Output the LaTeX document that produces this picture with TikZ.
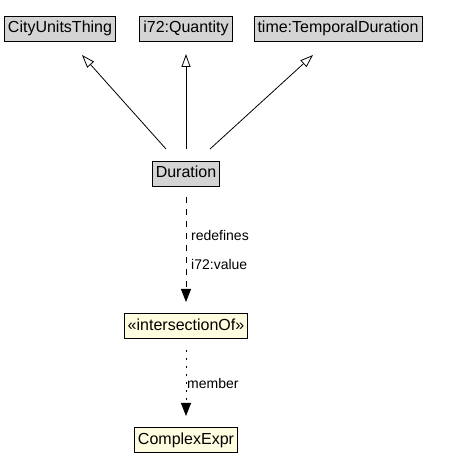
\documentclass[tikz,border=0pt]{standalone}
\usepackage{fontspec}
\setmainfont{Liberation Sans}
\usetikzlibrary{arrows.meta}
\begin{document}
\begin{tikzpicture}[x=1pt,y=-1pt,
  cls/.style={draw=black, line width=0.8pt, fill=black!17, font=\fontsize{16}{18}\selectfont,
    inner xsep=3.5pt, inner ysep=0pt, minimum height=25pt, text height=11.5pt, text depth=3pt},
  ycls/.style={cls, fill=yellow!12},
  gen/.style={line width=0.8pt, -{Triangle[open, fill=white, length=13pt, width=9pt]}},
  dep/.style={line width=0.8pt, dash pattern=on 6pt off 6pt, -{Triangle[length=13pt, width=10pt]}},
  mem/.style={line width=0.8pt, dash pattern=on 2pt off 6pt, -{Triangle[length=13pt, width=10pt]}},
  lbl/.style={font=\fontsize{14}{16}\selectfont, anchor=west, inner sep=0pt}]
\useasboundingbox (0,0) rectangle (472,470);
\node[cls] (cut) at (60,28.5) {CityUnitsThing};
\node[cls] (qty) at (186,28.5) {i72:Quantity};
\node[cls] (tdur) at (338,28.5) {time:TemporalDuration};
\node[cls] (dur) at (186,173.5) {Duration};
\node[ycls] (inter) at (186,326) {«intersectionOf»};
\node[ycls] (cexp) at (186,440) {ComplexExpr};
\coordinate (d1) at (166,149);
\coordinate (d2) at (186,149);
\coordinate (d3) at (210,149);
\coordinate (t1) at (82,55);
\coordinate (t2) at (186,54);
\coordinate (t3) at (313,55);
\draw[gen] (d1) -- (t1);
\draw[gen] (d2) -- (t2);
\draw[gen] (d3) -- (t3);
\coordinate (a1) at (186,197);
\coordinate (a2) at (186,302);
\draw[dep] (a1) -- (a2);
\node[lbl] (redef) at (191,235) {redefines};
\node[lbl] (val) at (191,264) {i72:value};
\coordinate (b1) at (186,350);
\coordinate (b2) at (186,416);
\draw[mem] (b1) -- (b2);
\node[lbl] (memb) at (187,383) {member};
\end{tikzpicture}
\end{document}
